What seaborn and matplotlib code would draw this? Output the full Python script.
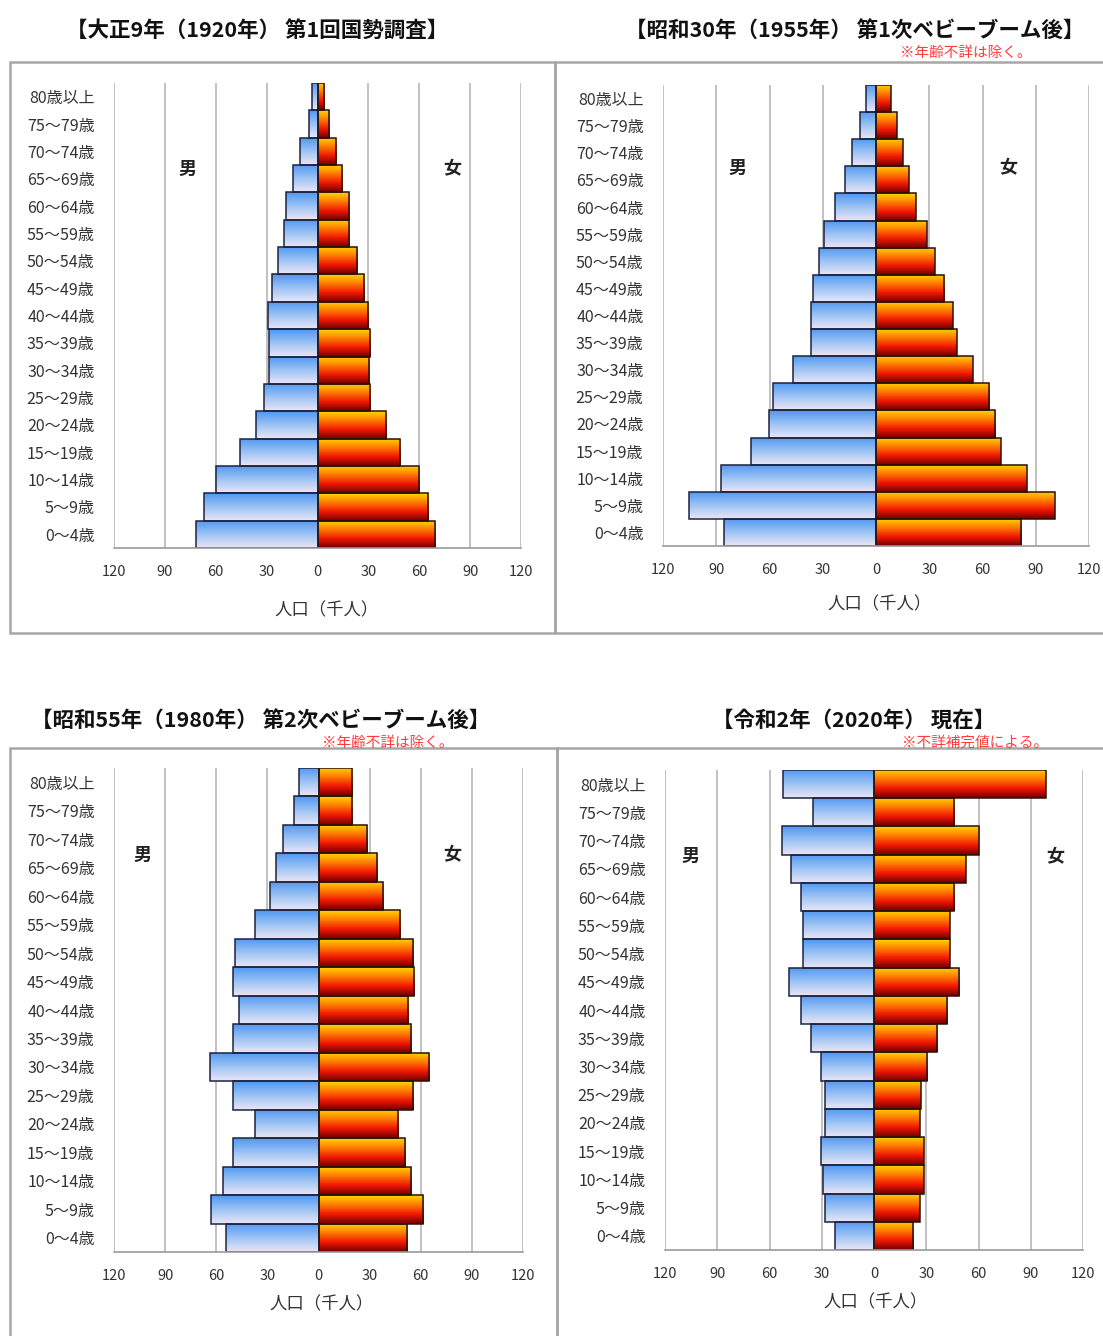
import numpy as np
import pandas as pd
import matplotlib
matplotlib.use("Agg")
import matplotlib.pyplot as plt
from matplotlib.colors import LinearSegmentedColormap
from matplotlib.patches import Rectangle
import seaborn as sns

sns.set_style("white")
plt.rcParams["font.family"] = ["Noto Sans CJK JP", "DejaVu Sans"]

# Age groups, oldest at the top
ages = ["80歳以上", "75〜79歳", "70〜74歳", "65〜69歳", "60〜64歳", "55〜59歳",
        "50〜54歳", "45〜49歳", "40〜44歳", "35〜39歳", "30〜34歳", "25〜29歳",
        "20〜24歳", "15〜19歳", "10〜14歳", "5〜9歳", "0〜4歳"]

# Population in thousands
male_1920 = [3.0, 5.3, 10.2, 14.2, 18.5, 19.5, 23.0, 26.8, 29.3, 28.5, 28.5, 31.3, 36.4, 45.7, 59.8, 66.9, 71.7]
female_1920 = [3.9, 6.5, 11.0, 14.6, 18.3, 18.7, 23.0, 27.2, 29.7, 31.1, 30.3, 31.1, 40.4, 48.8, 60.0, 65.2, 69.1]
male_1955 = [5.4, 8.8, 13.3, 17.6, 23.3, 29.5, 32.3, 35.6, 36.6, 36.6, 46.7, 58.2, 60.4, 70.7, 87.6, 105.4, 85.4]
female_1955 = [8.4, 11.8, 15.2, 18.4, 22.5, 28.7, 33.0, 38.5, 43.2, 45.6, 54.6, 63.8, 67.2, 70.4, 85.0, 100.6, 81.8]
male_1980 = [11.3, 14.3, 21.1, 25.0, 28.3, 37.5, 49.2, 50.4, 46.9, 50.4, 63.5, 50.4, 37.5, 50.4, 56.1, 62.9, 54.1]
female_1980 = [19.9, 19.9, 28.3, 34.2, 37.7, 47.9, 55.3, 56.1, 52.7, 54.1, 64.8, 55.7, 46.9, 50.8, 54.1, 61.1, 51.8]
male_2020 = [52.1, 34.9, 52.7, 47.9, 41.8, 40.6, 40.6, 48.9, 42.1, 36.0, 30.7, 28.4, 28.2, 30.3, 29.1, 28.2, 22.4]
female_2020 = [98.7, 46.0, 60.0, 52.7, 46.0, 43.5, 43.5, 48.9, 42.1, 36.4, 30.7, 26.8, 26.2, 28.7, 28.7, 26.2, 22.4]

titles = ["【大正9年（1920年） 第1回国勢調査】",
          "【昭和30年（1955年） 第1次ベビーブーム後】",
          "【昭和55年（1980年） 第2次ベビーブーム後】",
          "【令和2年（2020年） 現在】"]
notes = ["", "※年齢不詳は除く。", "※年齢不詳は除く。", "※不詳補完値による。"]
ticks = [-120, -90, -60, -30, 0, 30, 60, 90, 120]
tick_labels = [str(abs(t)) for t in ticks]
xlabel = "人口（千人）"

W, H = 1103, 1336
fig = plt.figure(figsize=(W / 100, H / 100), dpi=100)
fig.patch.set_facecolor("white")


def px_rect(left, top, right, bottom):
    return [left / W, 1 - bottom / H, (right - left) / W, (bottom - top) / H]


male_cmap = LinearSegmentedColormap.from_list("male", ["#4f97f2", "#9cc3f4", "#ebe6f6"])
female_cmap = LinearSegmentedColormap.from_list("female", ["#ffd800", "#ff7a00", "#f01800", "#6e0000"])


def gradient_bars(ax, patches, cmap):
    grad = np.linspace(0, 1, 128).reshape(-1, 1)
    for p in patches:
        x0, y0 = p.get_x(), p.get_y()
        w, h = p.get_width(), p.get_height()
        xl, xr = min(x0, x0 + w), max(x0, x0 + w)
        im = ax.imshow(grad, cmap=cmap, aspect="auto", origin="upper",
                       extent=(xl, xr, y0 + h, y0), zorder=p.get_zorder() - 0.01,
                       interpolation="bilinear")
        im.set_clip_path(p)
        p.set_facecolor("none")


panels = [
    dict(m=male_1920, f=female_1920, box=(10, 62, 555, 633), ax=(114, 83, 521, 548),
         title=(257, 30), note=None, xl=(327, 610), man=(0.18, 0.815), woman=(0.83, 0.815)),
    dict(m=male_1955, f=female_1955, box=(555, 62, 1112, 633), ax=(663, 85, 1089, 546),
         title=(855, 30), note=(966, 53), xl=(880, 604), man=(0.174, 0.82), woman=(0.81, 0.82)),
    dict(m=male_1980, f=female_1980, box=(10, 748, 557, 1345), ax=(114, 768, 523, 1252),
         title=(261, 720), note=(388, 743), xl=(322, 1304), man=(0.07, 0.82), woman=(0.826, 0.82)),
    dict(m=male_2020, f=female_2020, box=(557, 748, 1112, 1345), ax=(665, 770, 1083, 1250),
         title=(854, 720), note=(975, 743), xl=(876, 1302), man=(0.06, 0.82), woman=(0.933, 0.82)),
]

for i, pn in enumerate(panels):
    bl, bt, br, bb = pn["box"]
    fig.patches.append(Rectangle((bl / W, 1 - bb / H), (br - bl) / W, (bb - bt) / H,
                                 transform=fig.transFigure, fill=False,
                                 edgecolor="#a6a6a6", linewidth=1.8, zorder=0))
    tx, ty = pn["title"]
    fig.text(tx / W, 1 - ty / H, titles[i], ha="center", va="center",
             fontsize=15.5, fontweight="bold", color="#111111")
    if pn["note"] is not None:
        nx, ny = pn["note"]
        fig.text(nx / W, 1 - ny / H, notes[i], ha="center", va="center",
                 fontsize=10.5, color="#ff3b3b")

    ax = fig.add_axes(px_rect(*pn["ax"]))
    df = pd.DataFrame({"age": ages, "male": [-v for v in pn["m"]], "female": pn["f"]})
    sns.barplot(data=df, x="male", y="age", order=ages, orient="h", width=1.0,
                color="#4f97f2", edgecolor="#1d2340", linewidth=1.1, ax=ax)
    n_male = len(ax.patches)
    sns.barplot(data=df, x="female", y="age", order=ages, orient="h", width=1.0,
                color="#ff4000", edgecolor="#2a1208", linewidth=1.1, ax=ax)
    male_patches = ax.patches[:n_male]
    female_patches = ax.patches[n_male:]
    gradient_bars(ax, male_patches, male_cmap)
    gradient_bars(ax, female_patches, female_cmap)

    ax.set_xlim(-120, 120)
    ax.set_ylim(len(ages) - 0.5, -0.5)
    ax.set_xticks(ticks)
    ax.set_xticklabels(tick_labels, fontsize=10.5, color="#333333")
    ax.tick_params(axis="x", length=4, width=1, color="#999999", pad=8, direction="out")
    ax.tick_params(axis="y", length=0, pad=14, labelsize=11.5, labelcolor="#333333")
    for t in ax.get_yticklabels():
        t.set_ha("right")
    for xv in ticks:
        ax.axvline(xv, color="#b0b0b0", linewidth=1.1, zorder=0.5)
    for side in ["top", "right", "left"]:
        ax.spines[side].set_visible(False)
    ax.spines["bottom"].set_color("#999999")
    ax.spines["bottom"].set_linewidth(1.2)
    ax.set_xlabel("")
    ax.set_ylabel("")
    ax.patch.set_alpha(0)

    ax.text(pn["man"][0], pn["man"][1], "男", transform=ax.transAxes, ha="center",
            va="center", fontsize=13, fontweight="bold", color="#222222")
    ax.text(pn["woman"][0], pn["woman"][1], "女", transform=ax.transAxes, ha="center",
            va="center", fontsize=13, fontweight="bold", color="#222222")

    lx, ly = pn["xl"]
    fig.text(lx / W, 1 - ly / H, xlabel, ha="center", va="center",
             fontsize=12.5, color="#333333")

fig.savefig("out.png", dpi=100, facecolor="white")
